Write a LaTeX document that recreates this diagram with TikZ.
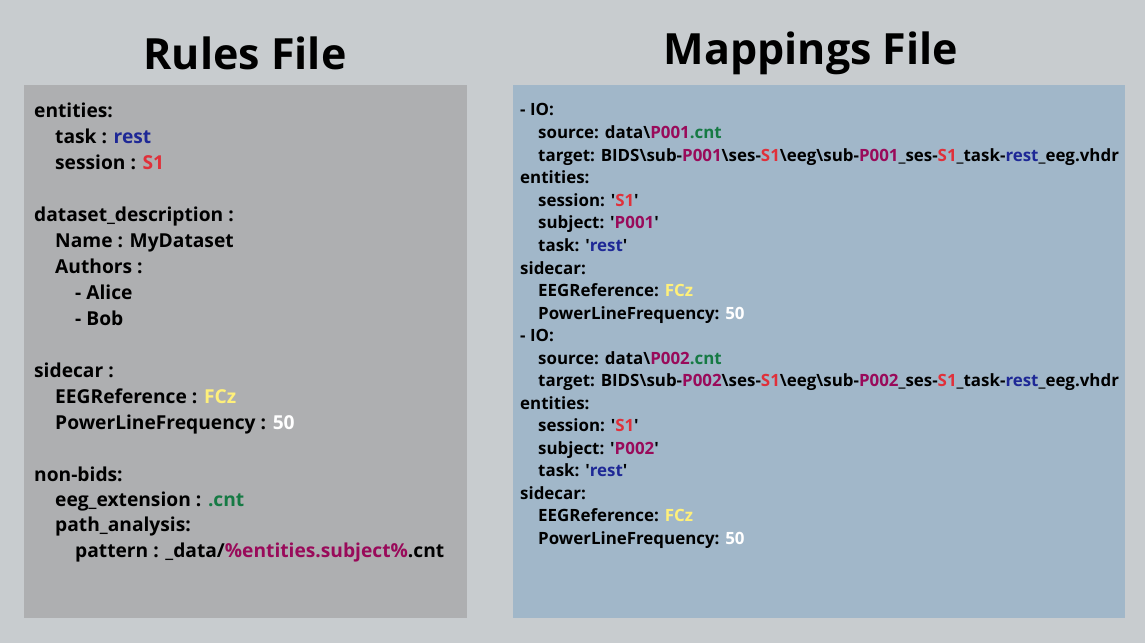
\documentclass[tikz,border=0pt]{standalone}
\usepackage{fontspec}
\setmainfont{Open Sans}
\newfontfamily\nomapfont{Open Sans}
\definecolor{bgc}{HTML}{C8CCCF}
\definecolor{lpanel}{HTML}{AEAFB1}
\definecolor{rpanel}{HTML}{A1B7C9}
\definecolor{cblue}{HTML}{1E2896}
\definecolor{cred}{HTML}{E0303A}
\definecolor{cyel}{HTML}{FFF07A}
\definecolor{cgreen}{HTML}{167A44}
\definecolor{cmag}{HTML}{990A5A}
\newcommand{\bs}{\textbackslash}
\newcommand{\q}{{\nomapfont\bfseries '}}
\newcommand{\bl}[1]{\textcolor{cblue}{#1}}
\newcommand{\rd}[1]{\textcolor{cred}{#1}}
\newcommand{\ye}[1]{\textcolor{cyel}{#1}}
\newcommand{\gr}[1]{\textcolor{cgreen}{#1}}
\newcommand{\mg}[1]{\textcolor{cmag}{#1}}
\newcommand{\wh}[1]{\textcolor{white}{#1}}
\begin{document}
\begin{tikzpicture}[x=1pt,y=-1pt,
  ttl/.style={anchor=center, inner sep=0, font=\bfseries\fontsize{43}{43}\selectfont},
  ltxt/.style={anchor=base west, inner sep=0, font=\bfseries\fontsize{19.2}{19.2}\selectfont},
  rtxt/.style={anchor=base west, inner sep=0, font=\bfseries\fontsize{16.9}{16.9}\selectfont}]
\fill[bgc] (0,0) rectangle (1145,643);
\useasboundingbox (0,0) rectangle (1145,643);
\fill[lpanel] (24,85) rectangle (467,618);
\fill[rpanel] (513,85) rectangle (1125,618);
\node[ttl] (t1) at (245,53) {Rules File};
\node[ttl] (t2) at (811,53) {Mappings File};
% left
\node[ltxt] (l1) at (34,117) {entities:};
\node[ltxt] (l2) at (55,143) {task : \bl{rest}};
\node[ltxt] (l3) at (55,169) {session : \rd{S1}};
\node[ltxt] (l4) at (34,221) {dataset\_description :};
\node[ltxt] (l5) at (55,247) {Name : MyDataset};
\node[ltxt] (l6) at (55,273) {Authors :};
\node[ltxt] (l7) at (75,299) {- Alice};
\node[ltxt] (l8) at (75,325) {- Bob};
\node[ltxt] (l9) at (34,377) {sidecar :};
\node[ltxt] (l10) at (55,403) {EEGReference : \ye{FCz}};
\node[ltxt] (l11) at (55,429) {PowerLineFrequency : \wh{50}};
\node[ltxt] (l12) at (34,481) {non-bids:};
\node[ltxt] (l13) at (55,506) {eeg\_extension : \gr{.cnt}};
\node[ltxt] (l14) at (55,531) {path\_analysis:};
\node[ltxt] (l15) at (75,557) {pattern : \_data/\mg{\%entities.subject\%}.cnt};
% right
\node[rtxt] (r1) at (520,115) {- IO:};
\node[rtxt] (r2) at (538,138) {source: data\bs\mg{P001}\gr{.cnt}};
\node[rtxt] (r3) at (538,161) {target: BIDS\bs sub-\mg{P001}\bs ses-\rd{S1}\bs eeg\bs sub-\mg{P001}\_ses-\rd{S1}\_task-\bl{rest}\_eeg.vhdr};
\node[rtxt] (r4) at (520,183) {entities:};
\node[rtxt] (r5) at (538,206) {session: \q\rd{S1}\q};
\node[rtxt] (r6) at (538,228) {subject: \q\mg{P001}\q};
\node[rtxt] (r7) at (538,251) {task: \q\bl{rest}\q};
\node[rtxt] (r8) at (520,274) {sidecar:};
\node[rtxt] (r9) at (538,296) {EEGReference: \ye{FCz}};
\node[rtxt] (r10) at (538,319) {PowerLineFrequency: \wh{50}};
\node[rtxt] (r11) at (520,341) {- IO:};
\node[rtxt] (r12) at (538,364) {source: data\bs\mg{P002}\gr{.cnt}};
\node[rtxt] (r13) at (538,386) {target: BIDS\bs sub-\mg{P002}\bs ses-\rd{S1}\bs eeg\bs sub-\mg{P002}\_ses-\rd{S1}\_task-\bl{rest}\_eeg.vhdr};
\node[rtxt] (r14) at (520,409) {entities:};
\node[rtxt] (r15) at (538,431) {session: \q\rd{S1}\q};
\node[rtxt] (r16) at (538,454) {subject: \q\mg{P002}\q};
\node[rtxt] (r17) at (538,476) {task: \q\bl{rest}\q};
\node[rtxt] (r18) at (520,499) {sidecar:};
\node[rtxt] (r19) at (538,521) {EEGReference: \ye{FCz}};
\node[rtxt] (r20) at (538,544) {PowerLineFrequency: \wh{50}};
\end{tikzpicture}
\end{document}
